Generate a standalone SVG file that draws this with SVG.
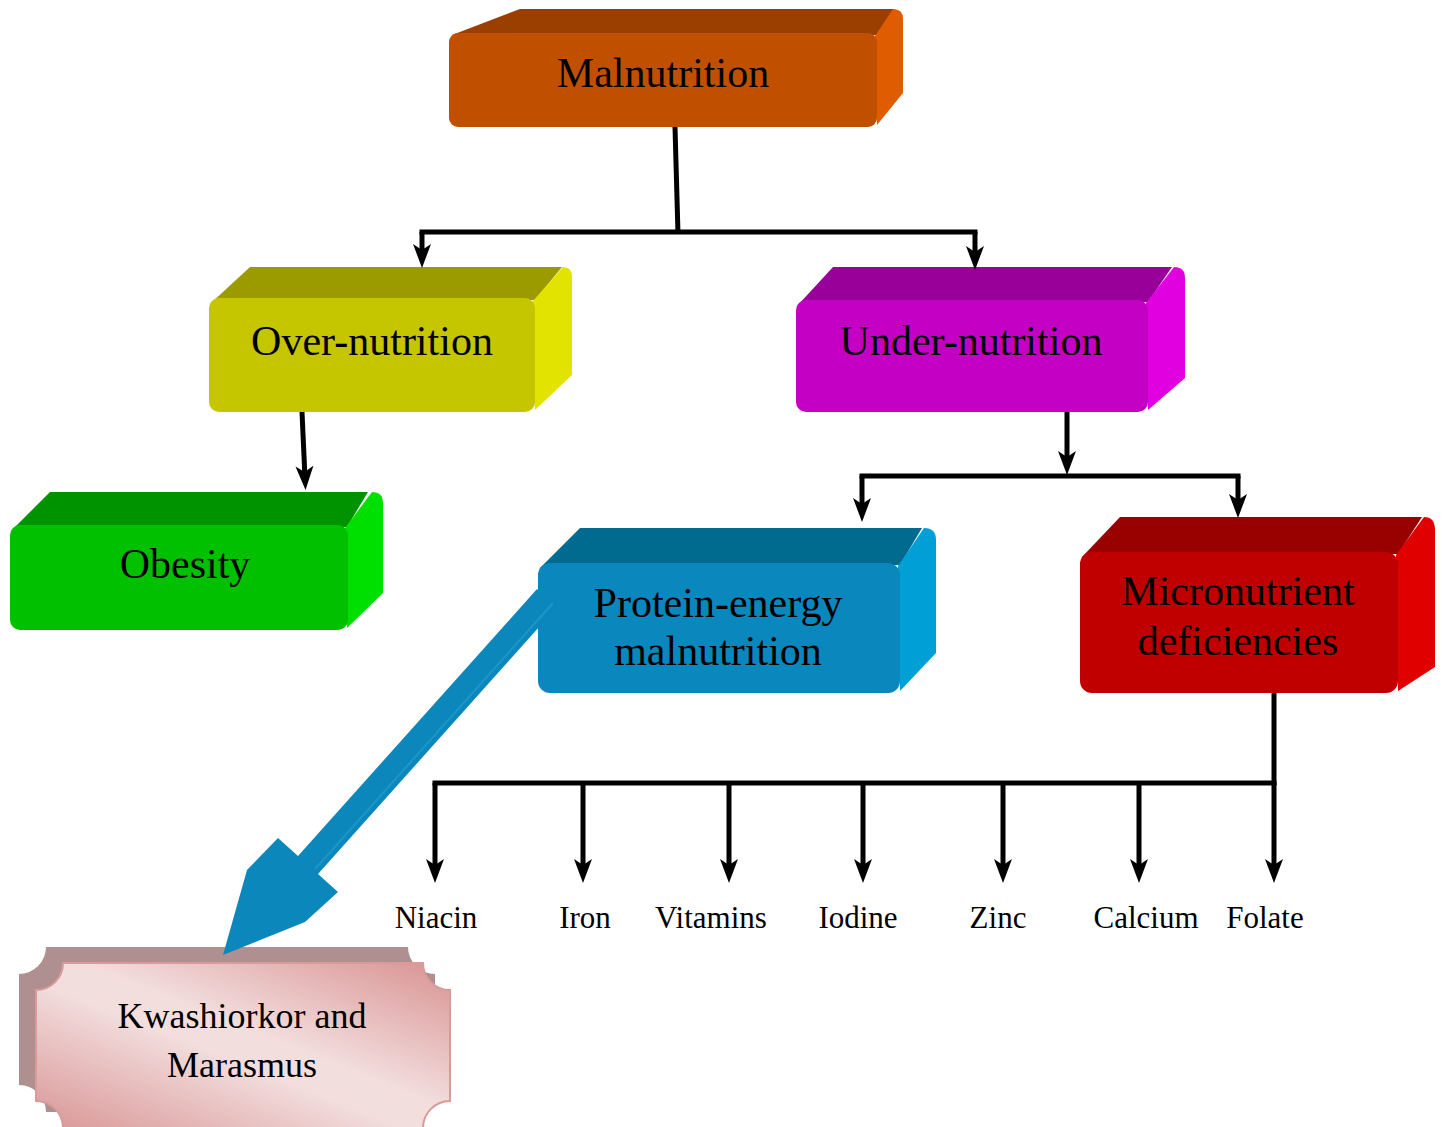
<svg xmlns="http://www.w3.org/2000/svg" width="1442" height="1127" viewBox="0 0 1442 1127">
<style>
.lbl{font-family:"Liberation Serif","Times New Roman",serif;font-size:42px;fill:#000;text-anchor:middle}
.kw{font-family:"Liberation Serif","Times New Roman",serif;font-size:36px;fill:#000;text-anchor:middle}
.item{font-family:"Liberation Serif","Times New Roman",serif;font-size:31px;fill:#000;text-anchor:middle}
.con{stroke:#000;stroke-width:5;fill:none}
.arr{marker-end:url(#ah)}
</style>
<defs>
<marker id="ah" viewBox="0 0 24 20" refX="12" refY="10" markerWidth="24" markerHeight="20" markerUnits="userSpaceOnUse" orient="auto">
<path d="M0,1 L24,10 L0,19 L6,10 Z" fill="#000"/>
</marker>
<linearGradient id="pink" x1="0" y1="1" x2="1" y2="0">
<stop offset="0" stop-color="#d99696"/>
<stop offset="0.45" stop-color="#f3dede"/>
<stop offset="0.55" stop-color="#f3dede"/>
<stop offset="1" stop-color="#d99292"/>
</linearGradient>
</defs>

<g id="node-malnutrition">
<path d="M452,35 L520,9 L895,9 L877,35 Z" fill="#9b3f00"/>
<path d="M875,36 L893,9 Q903,9 903,19 L903,93 L877,125 Z" fill="#e05c00"/>
<rect x="449" y="33" width="428" height="94" rx="9" fill="#c05000"/>
<text class="lbl" x="663" y="87">Malnutrition</text>
</g>

<g id="node-overnutrition">
<path d="M211,303 L250,267 L562,267 L535,300 Z" fill="#9b9b00"/>
<path d="M532,302 L563,267 Q572,267 572,277 L572,375 L535,410 Z" fill="#e3e300"/>
<rect x="209" y="298" width="326" height="114" rx="10" fill="#c5c500"/>
<text class="lbl" x="372" y="355">Over-nutrition</text>
</g>

<g id="node-undernutrition">
<path d="M798,305 L833,267 L1172,267 L1148,302 Z" fill="#990099"/>
<path d="M1146,303 L1174,267 Q1185,267 1185,278 L1185,378 L1148,410 Z" fill="#e000e0"/>
<rect x="796" y="300" width="352" height="112" rx="10" fill="#c400c4"/>
<text class="lbl" x="971" y="355">Under-nutrition</text>
</g>

<g id="node-obesity">
<path d="M12,530 L50,492 L368,492 L347,527 Z" fill="#009300"/>
<path d="M345,528 L372,492 Q383,492 383,503 L383,593 L347,628 Z" fill="#00e000"/>
<rect x="10" y="525" width="338" height="105" rx="10" fill="#00c000"/>
<text class="lbl" x="185" y="578">Obesity</text>
</g>

<g id="node-protein">
<path d="M540,568 L580,528 L922,528 L900,565 Z" fill="#006a8f"/>
<path d="M898,566 L924,528 Q936,528 936,540 L936,653 L900,691 Z" fill="#009fd5"/>
<rect x="538" y="563" width="362" height="130" rx="12" fill="#0a87bd"/>
<text class="lbl" x="718" y="617">Protein-energy</text>
<text class="lbl" x="718" y="665">malnutrition</text>
</g>

<g id="node-micro">
<path d="M1082,557 L1120,517 L1422,517 L1398,554 Z" fill="#990000"/>
<path d="M1396,555 L1424,517 Q1435,517 1435,530 L1435,667 L1398,691 Z" fill="#e00000"/>
<rect x="1080" y="552" width="318" height="141" rx="12" fill="#c00000"/>
<text class="lbl" x="1238" y="605">Micronutrient</text>
<text class="lbl" x="1238" y="655">deficiencies</text>
</g>

<g id="node-kwashiorkor">
<path d="M46,947 L408,947 A27 27 0 0 0 435,974 L435,1085 A27 27 0 0 0 408,1112 L46,1112 A27 27 0 0 0 19,1085 L19,974 A27 27 0 0 0 46,947 Z" fill="#af8f8f"/>
<path d="M63,963 L423,963 A27 27 0 0 0 450,990 L450,1101 A27 27 0 0 0 423,1128 L63,1128 A27 27 0 0 0 36,1101 L36,990 A27 27 0 0 0 63,963 Z" fill="url(#pink)" stroke="#d99a9a" stroke-width="2"/>
<text class="kw" x="242" y="1028">Kwashiorkor and</text>
<text class="kw" x="242" y="1077">Marasmus</text>
</g>

<g id="connectors">
<path class="con" d="M675,127 L678,234"/>
<path class="con" d="M419.5,232 L977.5,232"/>
<path class="con arr" d="M422,232 L422,256"/>
<path class="con arr" d="M975,232 L975,258"/>
<path class="con arr" d="M302,412 L305,478"/>
<path class="con arr" d="M1067,412 L1067,463"/>
<path class="con" d="M859.5,476 L1240.5,476"/>
<path class="con arr" d="M862,476 L862,510"/>
<path class="con arr" d="M1238,476 L1238,506"/>
<path class="con" d="M1274,693 L1274,785"/>
<path class="con" d="M432.5,783 L1276.5,783"/>
<path class="con arr" d="M435,783 L435,871"/>
<path class="con arr" d="M583,783 L583,871"/>
<path class="con arr" d="M729,783 L729,871"/>
<path class="con arr" d="M863,783 L863,871"/>
<path class="con arr" d="M1003,783 L1003,871"/>
<path class="con arr" d="M1139,783 L1139,871"/>
<path class="con arr" d="M1274,783 L1274,871"/>
<path id="block-arrow" d="M537,589 L557,607 L318,874 L338,892 L305,922 L223,955 L247,870 L278,838 L298,856 Z" fill="#0b87bb"/>
<path d="M553,603 L315,869" stroke="#2a9fd2" stroke-width="2" fill="none" opacity="0.6"/>
</g>

<g id="items">
<text class="item" x="436" y="928">Niacin</text>
<text class="item" x="585" y="928">Iron</text>
<text class="item" x="711" y="928">Vitamins</text>
<text class="item" x="858" y="928">Iodine</text>
<text class="item" x="998" y="928">Zinc</text>
<text class="item" x="1146" y="928">Calcium</text>
<text class="item" x="1265" y="928">Folate</text>
</g>
</svg>
